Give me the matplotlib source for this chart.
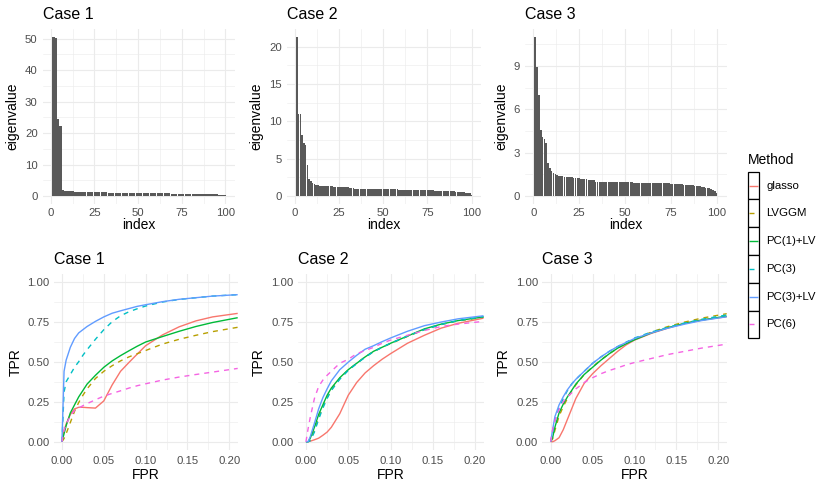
import numpy as np
import matplotlib
matplotlib.use("Agg")
import matplotlib.pyplot as plt
from matplotlib.patches import Rectangle
from matplotlib.ticker import FixedLocator

plt.rcParams['font.family'] = ['Liberation Sans', 'DejaVu Sans']

# ---------------- data ----------------
case_titles = ["Case 1", "Case 2", "Case 3"]
methods = ["glasso", "LVGGM", "PC(1)+LV", "PC(3)", "PC(3)+LV", "PC(6)"]
method_colors = ["#F8766D", "#B79F00", "#00BA38", "#00BFC4", "#619CFF", "#F564E3"]
method_dashed = [False, True, False, True, False, True]

eig_case1 = [50.5, 50.5, 50.2, 24.4, 22.3, 22.2, 2.0, 1.7, 1.6, 1.55,
             1.5, 1.48, 1.45, 1.43, 1.4, 1.38, 1.36, 1.34, 1.32, 1.3,
             1.28, 1.26, 1.25, 1.23, 1.22, 1.2, 1.19, 1.18, 1.16, 1.15,
             1.14, 1.13, 1.12, 1.11, 1.1, 1.09, 1.08, 1.07, 1.06, 1.05,
             1.04, 1.03, 1.02, 1.01, 1.0, 0.99, 0.98, 0.97, 0.96, 0.95,
             0.94, 0.93, 0.92, 0.92, 0.91, 0.9, 0.89, 0.88, 0.88, 0.87,
             0.86, 0.85, 0.85, 0.84, 0.83, 0.82, 0.82, 0.81, 0.8, 0.79,
             0.78, 0.78, 0.77, 0.76, 0.75, 0.74, 0.73, 0.72, 0.71, 0.7,
             0.69, 0.68, 0.67, 0.66, 0.65, 0.63, 0.62, 0.61, 0.6, 0.58,
             0.57, 0.55, 0.54, 0.52, 0.5, 0.48, 0.46, 0.44, 0.41, 0.38]

eig_case2 = [21.3, 11.05, 11.0, 8.15, 7.05, 6.9, 4.2, 2.25, 1.95, 1.75,
             1.62, 1.5, 1.42, 1.38, 1.36, 1.35, 1.33, 1.32, 1.3, 1.29,
             1.28, 1.26, 1.25, 1.24, 1.22, 1.21, 1.2, 1.18, 1.17, 1.15,
             1.13, 1.12, 1.1, 0.96, 0.96, 0.95, 0.95, 0.95, 0.94, 0.94,
             0.94, 0.93, 0.93, 0.93, 0.92, 0.92, 0.92, 0.91, 0.91, 0.91,
             0.9, 0.9, 0.9, 0.89, 0.89, 0.88, 0.88, 0.88, 0.87, 0.87,
             0.86, 0.86, 0.85, 0.85, 0.84, 0.84, 0.83, 0.83, 0.82, 0.81,
             0.81, 0.8, 0.79, 0.79, 0.78, 0.77, 0.76, 0.75, 0.74, 0.73,
             0.72, 0.71, 0.7, 0.69, 0.68, 0.67, 0.66, 0.65, 0.63, 0.62,
             0.6, 0.58, 0.57, 0.55, 0.53, 0.5, 0.47, 0.43, 0.35, 0.15]

eig_case3 = [11.0, 8.95, 7.0, 4.55, 4.05, 3.95, 3.7, 2.3, 1.95, 1.75,
             1.62, 1.55, 1.48, 1.38, 1.37, 1.36, 1.35, 1.33, 1.32, 1.3,
             1.29, 1.28, 1.26, 1.25, 1.23, 1.21, 1.19, 1.17, 1.15, 1.13,
             1.11, 1.1, 1.08, 0.96, 0.96, 0.96, 0.95, 0.95, 0.95, 0.95,
             0.95, 0.95, 0.95, 0.94, 0.94, 0.94, 0.94, 0.94, 0.94, 0.94,
             0.94, 0.94, 0.94, 0.94, 0.93, 0.93, 0.93, 0.93, 0.93, 0.93,
             0.93, 0.93, 0.92, 0.92, 0.91, 0.91, 0.9, 0.9, 0.89, 0.89,
             0.88, 0.88, 0.87, 0.87, 0.86, 0.85, 0.84, 0.83, 0.82, 0.81,
             0.8, 0.79, 0.78, 0.77, 0.76, 0.75, 0.74, 0.72, 0.7, 0.68,
             0.66, 0.64, 0.62, 0.59, 0.56, 0.53, 0.49, 0.44, 0.38, 0.18]

eig_yticks = [[0, 10, 20, 30, 40, 50], [0, 5, 10, 15, 20], [0, 3, 6, 9]]
idx_ticks = [0, 25, 50, 75, 100]

fpr_grid = [0, 0.0025, 0.005, 0.01, 0.015, 0.02, 0.025, 0.03, 0.04, 0.05,
            0.06, 0.07, 0.08, 0.09, 0.1, 0.12, 0.14, 0.16, 0.18, 0.21]

# Case 1 TPR
c1_glasso = [0.0, 0.07, 0.11, 0.17, 0.205, 0.215, 0.215, 0.213, 0.21, 0.255,
             0.355, 0.44, 0.495, 0.548, 0.6, 0.667, 0.718, 0.755, 0.78, 0.802]
c1_lvggm = [0.0, 0.02, 0.05, 0.12, 0.19, 0.245, 0.29, 0.33, 0.395, 0.44,
            0.475, 0.505, 0.53, 0.55, 0.57, 0.61, 0.64, 0.665, 0.688, 0.715]
c1_pc1lv = [0.0, 0.05, 0.1, 0.18, 0.23, 0.28, 0.32, 0.36, 0.415, 0.465,
            0.505, 0.538, 0.568, 0.597, 0.623, 0.657, 0.69, 0.72, 0.745, 0.775]
c1_pc3 = [0.0, 0.31, 0.375, 0.42, 0.465, 0.5, 0.54, 0.575, 0.64, 0.7,
          0.75, 0.787, 0.812, 0.831, 0.848, 0.873, 0.889, 0.9, 0.91, 0.919]
c1_pc3lv = [0.0, 0.44, 0.51, 0.59, 0.645, 0.68, 0.7, 0.72, 0.752, 0.78,
            0.803, 0.818, 0.832, 0.846, 0.856, 0.875, 0.89, 0.9, 0.91, 0.919]
c1_pc6 = [0.0, 0.07, 0.11, 0.16, 0.195, 0.21, 0.225, 0.238, 0.262, 0.285,
          0.302, 0.318, 0.335, 0.35, 0.362, 0.385, 0.404, 0.42, 0.435, 0.458]

# Case 2 TPR
c2_glasso = [0.0, 0.0, 0.003, 0.012, 0.022, 0.04, 0.06, 0.09, 0.175, 0.29,
             0.37, 0.43, 0.475, 0.515, 0.55, 0.615, 0.665, 0.71, 0.74, 0.772]
c2_lvggm = [0.0, 0.0, 0.01, 0.07, 0.15, 0.22, 0.275, 0.325, 0.395, 0.448,
            0.49, 0.53, 0.563, 0.59, 0.613, 0.658, 0.7, 0.732, 0.755, 0.778]
c2_pc1lv = [0.0, 0.0, 0.02, 0.09, 0.17, 0.23, 0.29, 0.335, 0.4, 0.45,
            0.49, 0.53, 0.565, 0.59, 0.615, 0.66, 0.705, 0.735, 0.757, 0.78]
c2_pc3 = [0.0, 0.0, 0.005, 0.06, 0.14, 0.21, 0.27, 0.32, 0.39, 0.445,
          0.488, 0.528, 0.562, 0.59, 0.615, 0.66, 0.7, 0.733, 0.757, 0.782]
c2_pc3lv = [0.0, 0.0, 0.03, 0.115, 0.205, 0.275, 0.33, 0.38, 0.45, 0.497,
            0.54, 0.578, 0.6, 0.625, 0.648, 0.69, 0.725, 0.748, 0.768, 0.787]
c2_pc6 = [0.0, 0.08, 0.15, 0.27, 0.345, 0.385, 0.415, 0.44, 0.49, 0.515,
          0.55, 0.57, 0.59, 0.615, 0.635, 0.665, 0.695, 0.72, 0.735, 0.752]

# Case 3 TPR
c3_glasso = [0.0, 0.0, 0.006, 0.025, 0.075, 0.14, 0.205, 0.27, 0.365, 0.425,
             0.475, 0.52, 0.565, 0.605, 0.635, 0.677, 0.71, 0.74, 0.76, 0.781]
c3_lvggm = [0.0, 0.02, 0.07, 0.16, 0.22, 0.27, 0.315, 0.355, 0.42, 0.468,
            0.512, 0.55, 0.585, 0.615, 0.64, 0.685, 0.72, 0.748, 0.772, 0.8]
c3_pc1lv = [0.0, 0.03, 0.09, 0.18, 0.235, 0.28, 0.32, 0.36, 0.42, 0.465,
            0.51, 0.55, 0.585, 0.612, 0.637, 0.68, 0.713, 0.74, 0.76, 0.785]
c3_pc3 = [0.0, 0.06, 0.13, 0.21, 0.27, 0.32, 0.36, 0.39, 0.44, 0.49,
          0.53, 0.565, 0.595, 0.622, 0.648, 0.685, 0.715, 0.742, 0.765, 0.792]
c3_pc3lv = [0.0, 0.08, 0.156, 0.23, 0.281, 0.325, 0.36, 0.39, 0.44, 0.49,
            0.53, 0.565, 0.595, 0.62, 0.645, 0.68, 0.71, 0.735, 0.757, 0.781]
c3_pc6 = [0.0, 0.08, 0.13, 0.2, 0.25, 0.28, 0.305, 0.33, 0.37, 0.4,
          0.425, 0.445, 0.462, 0.48, 0.495, 0.52, 0.545, 0.565, 0.585, 0.61]

roc_cases = [
    [c1_glasso, c1_lvggm, c1_pc1lv, c1_pc3, c1_pc3lv, c1_pc6],
    [c2_glasso, c2_lvggm, c2_pc1lv, c2_pc3, c2_pc3lv, c2_pc6],
    [c3_glasso, c3_lvggm, c3_pc1lv, c3_pc3, c3_pc3lv, c3_pc6],
]
fpr_ticks = [0.0, 0.05, 0.1, 0.15, 0.2]
tpr_ticks = [0.0, 0.25, 0.5, 0.75, 1.0]

# ---------------- styling ----------------
W, H = 830, 491
fig = plt.figure(figsize=(W / 100, H / 100), dpi=100)
fig.patch.set_facecolor("white")

def px_rect(x0, y0, x1, y1):
    return [x0 / W, 1 - y1 / H, (x1 - x0) / W, (y1 - y0) / H]

TICK_COL = "#4D4D4D"
GRID_COL = "#EBEBEB"
TITLE_FS = 11.5
AXT_FS = 10
TICK_FS = 8.2

def style_axes(ax, xpad, ypad):
    for s in ax.spines.values():
        s.set_visible(False)
    ax.set_facecolor("white")
    ax.grid(which="major", color=GRID_COL, linewidth=0.8)
    ax.grid(which="minor", color=GRID_COL, linewidth=0.4)
    ax.set_axisbelow(True)
    ax.tick_params(which="both", length=0)
    ax.tick_params(axis="x", pad=xpad, labelsize=TICK_FS, labelcolor=TICK_COL)
    ax.tick_params(axis="y", pad=ypad, labelsize=TICK_FS, labelcolor=TICK_COL)

top_boxes = [(43, 29, 235, 204), (287.2, 29, 481.2, 204), (525.2, 29, 726.6, 204)]
bot_boxes = [(53.6, 273.7, 237.7, 449.7), (297.5, 273.7, 483.5, 449.7), (542.3, 273.7, 726.7, 449.7)]
eig_data = [eig_case1, eig_case2, eig_case3]

for i in range(3):
    ax = fig.add_axes(px_rect(*top_boxes[i]))
    vals = eig_data[i]
    idx = np.arange(1, len(vals) + 1)
    ax.bar(idx, vals, width=0.9, color="#595959", linewidth=0)
    vmax = max(vals)
    ax.set_xlim(0.55 - 0.05 * 99.9, 100.45 + 0.05 * 99.9)
    ax.set_ylim(-0.05 * vmax, vmax * 1.05)
    ax.xaxis.set_major_locator(FixedLocator(idx_ticks))
    ax.xaxis.set_minor_locator(FixedLocator([12.5, 37.5, 62.5, 87.5]))
    yt = eig_yticks[i]
    step = yt[1] - yt[0]
    ax.yaxis.set_major_locator(FixedLocator(yt))
    ax.yaxis.set_minor_locator(FixedLocator([t + step / 2 for t in yt]))
    ax.set_xticklabels([str(t) for t in idx_ticks])
    ax.set_yticklabels([str(t) for t in yt])
    style_axes(ax, xpad=3.0, ypad=3.8)
    ax.set_xlabel("index", fontsize=AXT_FS, labelpad=0.0)
    ax.set_ylabel("eigenvalue", fontsize=AXT_FS, labelpad=4.0)
    ax.set_title(case_titles[i], loc="left", fontsize=TITLE_FS, pad=7)

for i in range(3):
    ax = fig.add_axes(px_rect(*bot_boxes[i]))
    for m in range(len(methods)):
        ls = (0, (3.6, 3.6)) if method_dashed[m] else "-"
        ax.plot(fpr_grid, roc_cases[i][m], color=method_colors[m],
                linewidth=1.0, linestyle=ls, solid_capstyle="butt")
    ax.set_xlim(-0.01, 0.21)
    ax.set_ylim(-0.05, 1.05)
    ax.xaxis.set_major_locator(FixedLocator(fpr_ticks))
    ax.xaxis.set_minor_locator(FixedLocator([0.025, 0.075, 0.125, 0.175]))
    ax.yaxis.set_major_locator(FixedLocator(tpr_ticks))
    ax.yaxis.set_minor_locator(FixedLocator([0.125, 0.375, 0.625, 0.875]))
    ax.set_xticklabels(["%.2f" % t for t in fpr_ticks])
    ax.set_yticklabels(["%.2f" % t for t in tpr_ticks])
    style_axes(ax, xpad=4.5, ypad=3.0)
    ax.set_xlabel("FPR", fontsize=AXT_FS, labelpad=1.5)
    ax.set_ylabel("TPR", fontsize=AXT_FS, labelpad=3.5)
    ax.set_title(case_titles[i], loc="left", fontsize=TITLE_FS, pad=7)

# ---------------- legend ----------------
lx0, ly0, lx1, ly1 = 747.7, 171.7, 759.3, 338.3
lax = fig.add_axes(px_rect(lx0, ly0, lx1, ly1))
lax.set_xlim(0, 1)
lax.set_ylim(len(methods), 0)
lax.axis("off")
key_h = (ly1 - ly0) / len(methods)
for m, name in enumerate(methods):
    lax.add_patch(Rectangle((0, m), 1, 1, facecolor="white", edgecolor="black",
                            linewidth=0.9, clip_on=False))
    ls = (0, (3.6, 3.6)) if method_dashed[m] else "-"
    lax.plot([0.15, 0.85], [m + 0.5, m + 0.5], color=method_colors[m],
             linewidth=1.0, linestyle=ls, solid_capstyle="butt")
    fig.text(766.5 / W, 1 - (ly0 + key_h * (m + 0.5)) / H, name,
             fontsize=TICK_FS, color="black", va="center", ha="left")
fig.text(748 / W, 1 - 160 / H, "Method", fontsize=AXT_FS, color="black",
         va="center", ha="left")

fig.savefig("out.png", dpi=100, facecolor="white")
